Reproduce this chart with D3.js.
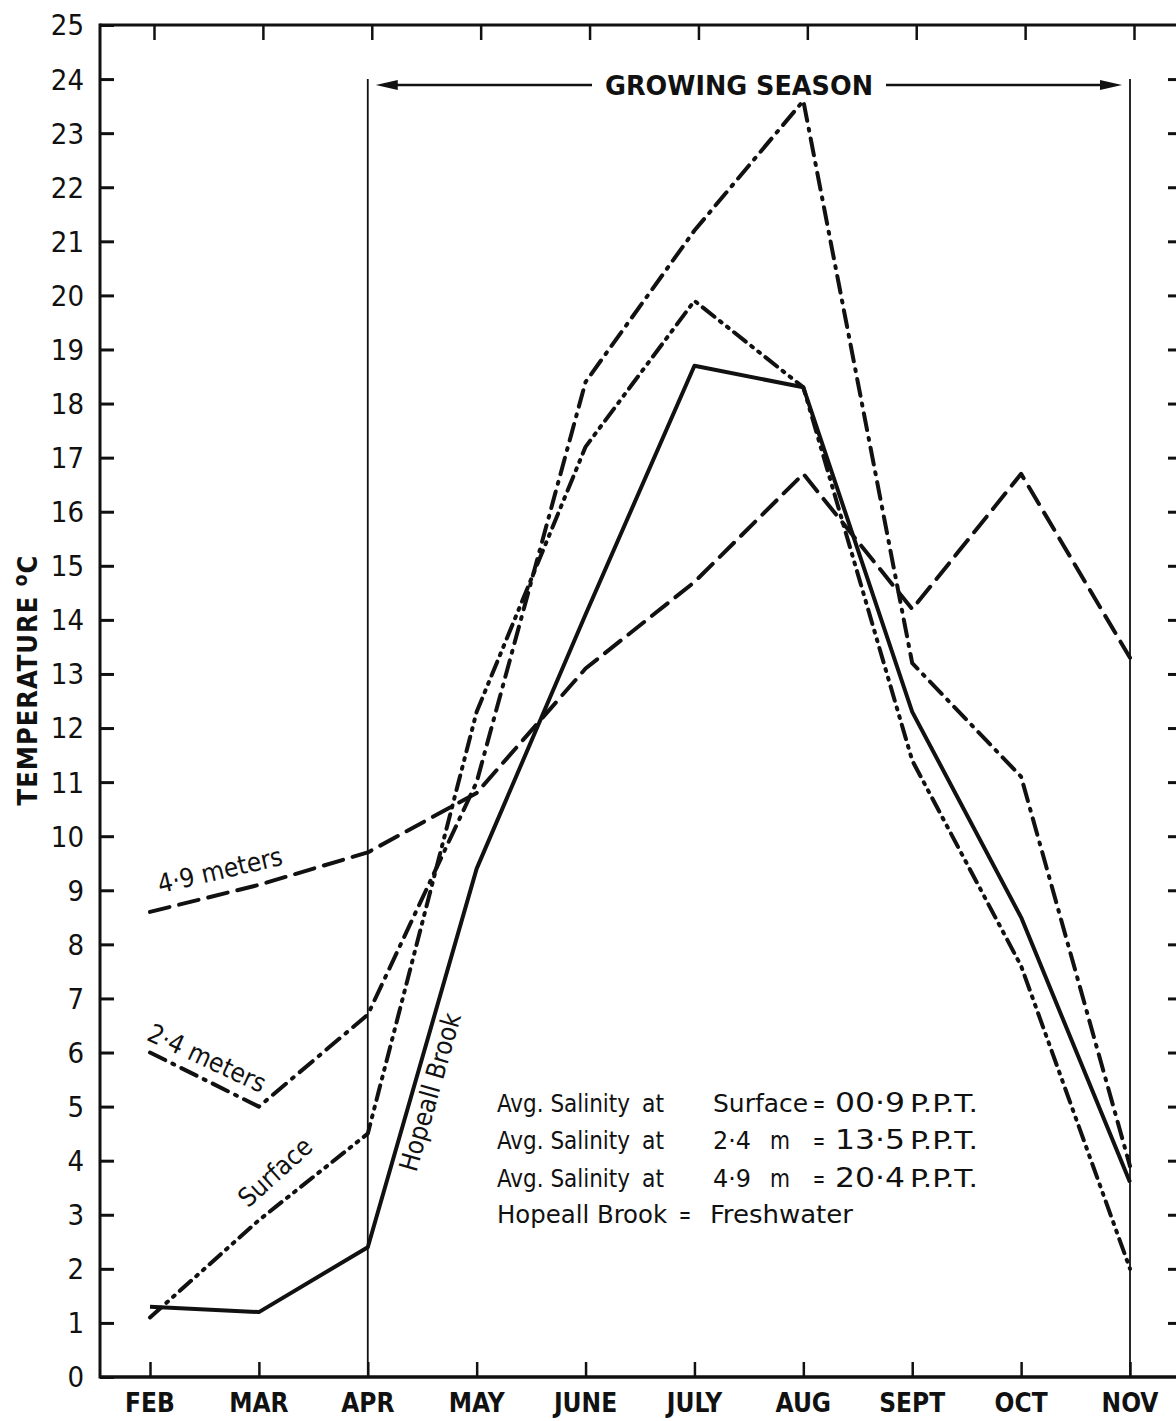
<!DOCTYPE html>
<html>
<head>
<meta charset="utf-8">
<script src="https://cdn.jsdelivr.net/npm/d3@7"></script>
<style>
  body { margin: 0; background: #fff; }
  svg { display: block; }
  .tick-label { font-family: 'DejaVu Sans Condensed', 'DejaVu Sans', sans-serif; font-size: 29px; fill: #111; }
  .month-label { font-family: 'DejaVu Sans Condensed', 'DejaVu Sans', sans-serif; font-weight: bold; font-size: 26px; fill: #111; }
  .note { font-family: 'DejaVu Sans Condensed', 'DejaVu Sans', sans-serif; font-size: 24px; fill: #111; }
  .series-label { font-family: 'DejaVu Sans Condensed', 'DejaVu Sans', sans-serif; font-size: 26px; fill: #111; }
</style>
</head>
<body>
<div id="chart"></div>
<script>
// months on the x axis
const months = ['FEB', 'MAR', 'APR', 'MAY', 'JUNE', 'JULY', 'AUG', 'SEPT', 'OCT', 'NOV'];

// temperature (deg C) per month
const hopeallBrook = [1.3, 1.2, 2.4, 9.4, 14.1, 18.7, 18.3, 12.3, 8.5, 3.6];
const surface      = [1.1, 2.9, 4.5, 12.3, 17.2, 19.9, 18.3, 11.4, 7.6, 2.0];
const meters24     = [6.0, 5.0, 6.7, 11.0, 18.4, 21.2, 23.6, 13.2, 11.1, 3.9];
const meters49     = [8.6, 9.1, 9.7, 10.8, 13.1, 14.7, 16.7, 14.2, 16.7, 13.3];

// y axis ticks
const yTicks = d3.range(0, 26);

// growing season spans APR to NOV
const seasonStart = 'APR';
const seasonEnd = 'NOV';

// salinity notes
const salinityNames = ['Surface', '2·4', '4·9'];
const salinityValues = ['00·9', '13·5', '20·4'];

class tempChart {

  constructor(opts) {
    this.element = opts.element;
    this.draw();
  }

  draw() {
    this.width = 1176;
    this.height = 1421;

    this.svg = d3.select(this.element).append('svg')
      .attr('width', this.width)
      .attr('height', this.height);

    this.createScales();
    this.addAxes();
    this.addSeason();
    this.addLines();
    this.addLabels();
  }

  createScales() {
    this.xScale = d3.scaleLinear()
      .domain([0, months.length - 1])
      .range([150, 1130]);

    this.yScale = d3.scaleLinear()
      .domain([0, 25])
      .range([1377, 25]);
  }

  addAxes() {
    const svg = this.svg;
    const left = 100, right = 1186;
    const y = this.yScale, x = this.xScale;

    // frame lines
    svg.append('line').attr('x1', left).attr('x2', right)
      .attr('y1', y(0)).attr('y2', y(0))
      .attr('stroke', '#111').attr('stroke-width', 3.5);
    svg.append('line').attr('x1', left).attr('x2', right)
      .attr('y1', y(25)).attr('y2', y(25))
      .attr('stroke', '#111').attr('stroke-width', 3);
    svg.append('line').attr('x1', left).attr('x2', left)
      .attr('y1', y(25) - 1.5).attr('y2', y(0) + 1.5)
      .attr('stroke', '#111').attr('stroke-width', 3);
    svg.append('line').attr('x1', right).attr('x2', right)
      .attr('y1', y(25)).attr('y2', y(0))
      .attr('stroke', '#111').attr('stroke-width', 3);

    // left y axis: ticks pointing inward
    const yAxis = d3.axisRight(y)
      .tickValues(yTicks)
      .tickSize(14)
      .tickFormat('');
    const gy = svg.append('g')
      .attr('transform', `translate(${left},0)`)
      .call(yAxis);
    gy.select('.domain').remove();
    gy.selectAll('line').attr('stroke', '#111').attr('stroke-width', 3);

    svg.selectAll('.y-label')
      .data(yTicks)
      .enter().append('text')
      .attr('class', 'tick-label y-label')
      .attr('x', 84)
      .attr('y', d => y(d))
      .attr('dy', '0.36em')
      .attr('text-anchor', 'end')
      .text(d => d);

    // right y axis: ticks pointing inward, no labels
    const yAxisR = d3.axisLeft(y)
      .tickValues(yTicks.slice(1, 25))
      .tickSize(18)
      .tickFormat('');
    const gyr = svg.append('g')
      .attr('transform', `translate(${right},0)`)
      .call(yAxisR);
    gyr.select('.domain').remove();
    gyr.selectAll('line').attr('stroke', '#111').attr('stroke-width', 3);

    // bottom x axis ticks pointing up
    const idx = d3.range(months.length);
    const xAxis = d3.axisTop(x)
      .tickValues(idx)
      .tickSize(15)
      .tickFormat('');
    const gx = svg.append('g')
      .attr('transform', `translate(0,${y(0)})`)
      .call(xAxis);
    gx.select('.domain').remove();
    gx.selectAll('line').attr('stroke', '#111').attr('stroke-width', 2.5);

    // top ticks pointing down
    const xAxisTop = d3.axisBottom(x)
      .tickValues(idx)
      .tickSize(15)
      .tickFormat('');
    const gxt = svg.append('g')
      .attr('transform', `translate(4,${y(25)})`)
      .call(xAxisTop);
    gxt.select('.domain').remove();
    gxt.selectAll('line').attr('stroke', '#111').attr('stroke-width', 2.5);

    svg.selectAll('.month-label')
      .data(months)
      .enter().append('text')
      .attr('class', 'month-label')
      .attr('x', (d, i) => x(i))
      .attr('y', 1412)
      .attr('text-anchor', 'middle')
      .text(d => d);

    // y axis title
    const title = svg.append('text')
      .attr('transform', 'translate(37,680) rotate(-90)')
      .attr('text-anchor', 'middle')
      .style('font-family', "'DejaVu Sans Condensed', 'DejaVu Sans', sans-serif")
      .style('font-size', '27px')
      .style('font-weight', 'bold')
      .style('letter-spacing', '1px')
      .attr('fill', '#111');
    title.append('tspan').text('TEMPERATURE  ');
    title.append('tspan').attr('dy', -10).style('font-size', '19px').text('o');
    title.append('tspan').attr('dy', 10).text('C');
  }

  addSeason() {
    const svg = this.svg;
    const x = this.xScale, y = this.yScale;
    const x0 = x(months.indexOf(seasonStart));
    const x1 = x(months.indexOf(seasonEnd));

    // vertical season boundaries
    [x0, x1].forEach(xx => {
      svg.append('line')
        .attr('x1', xx).attr('x2', xx)
        .attr('y1', y(24)).attr('y2', y(0))
        .attr('stroke', '#111').attr('stroke-width', 1.8);
    });

    const ay = y(24) + 6;

    svg.append('text')
      .attr('x', 605)
      .attr('y', ay + 10)
      .attr('textLength', 268)
      .attr('lengthAdjust', 'spacingAndGlyphs')
      .style('font-family', "'DejaVu Sans Condensed', 'DejaVu Sans', sans-serif")
      .style('font-size', '27px')
      .style('font-weight', 'bold')
      .attr('fill', '#111')
      .text('GROWING  SEASON');

    // arrow shafts
    svg.append('line').attr('x1', x0 + 22).attr('x2', 592)
      .attr('y1', ay).attr('y2', ay)
      .attr('stroke', '#111').attr('stroke-width', 2.5);
    svg.append('line').attr('x1', 886).attr('x2', x1 - 22)
      .attr('y1', ay).attr('y2', ay)
      .attr('stroke', '#111').attr('stroke-width', 2.5);

    // arrow heads
    svg.append('path')
      .attr('d', `M${x0 + 8},${ay} L${x0 + 30},${ay - 5} L${x0 + 30},${ay + 5} Z`)
      .attr('fill', '#111');
    svg.append('path')
      .attr('d', `M${x1 - 8},${ay} L${x1 - 30},${ay - 5} L${x1 - 30},${ay + 5} Z`)
      .attr('fill', '#111');
  }

  addLines() {
    const x = this.xScale, y = this.yScale;

    const line = d3.line()
      .x((d, i) => x(i))
      .y(d => y(d));

    const series = [
      { values: hopeallBrook, dash: null },
      { values: meters49, dash: '20,10' },
      { values: meters24, dash: '17,8,2,8' },
      { values: surface, dash: '15,7,2,7,2,7' }
    ];

    this.svg.selectAll('.series')
      .data(series)
      .enter().append('path')
      .attr('class', 'series')
      .attr('fill', 'none')
      .attr('stroke', '#111')
      .attr('stroke-width', 4)
      .attr('stroke-linejoin', 'round')
      .attr('stroke-linecap', d => d.dash ? 'round' : 'butt')
      .attr('stroke-dasharray', d => d.dash)
      .attr('d', d => line(d.values));
  }

  addLabels() {
    const svg = this.svg;

    const seriesLabels = [
      { text: '4·9 meters', x: 220, y: 870, angle: -13 },
      { text: '2·4 meters', x: 207, y: 1058, angle: 25 },
      { text: 'Surface', x: 275, y: 1172, angle: -42 },
      { text: 'Hopeall Brook', x: 430, y: 1092, angle: -74 }
    ];

    svg.selectAll('.series-label')
      .data(seriesLabels)
      .enter().append('text')
      .attr('class', 'series-label')
      .attr('text-anchor', 'middle')
      .attr('transform', d => `translate(${d.x},${d.y}) rotate(${d.angle})`)
      .attr('dy', '0.35em')
      .text(d => d.text);

    // text segment fitted to the width it has in the figure
    const note = (x, y, text, w, size) => {
      svg.append('text')
        .attr('class', 'note')
        .attr('x', x).attr('y', y)
        .attr('textLength', w)
        .attr('lengthAdjust', 'spacingAndGlyphs')
        .style('font-size', (size || 24) + 'px')
        .text(text);
    };

    const lineY = [1112, 1149, 1187];
    salinityNames.forEach((name, i) => {
      note(497, lineY[i], 'Avg. Salinity', 133);
      note(642, lineY[i], 'at', 22);
      if (i === 0) {
        note(713, lineY[i], name, 95);
      } else {
        note(713, lineY[i], name, 38, 25);
        note(770, lineY[i], 'm', 20);
      }
      note(813, lineY[i], '=', 12);
      note(835, lineY[i], salinityValues[i], 70, 26);
      note(910, lineY[i], 'P.P.T.', 68);
    });
    note(497, 1223, 'Hopeall Brook', 170);
    note(679, 1223, '=', 12);
    note(710, 1223, 'Freshwater', 143);
  }

}

new tempChart({ element: document.getElementById('chart') });
</script>
</body>
</html>
